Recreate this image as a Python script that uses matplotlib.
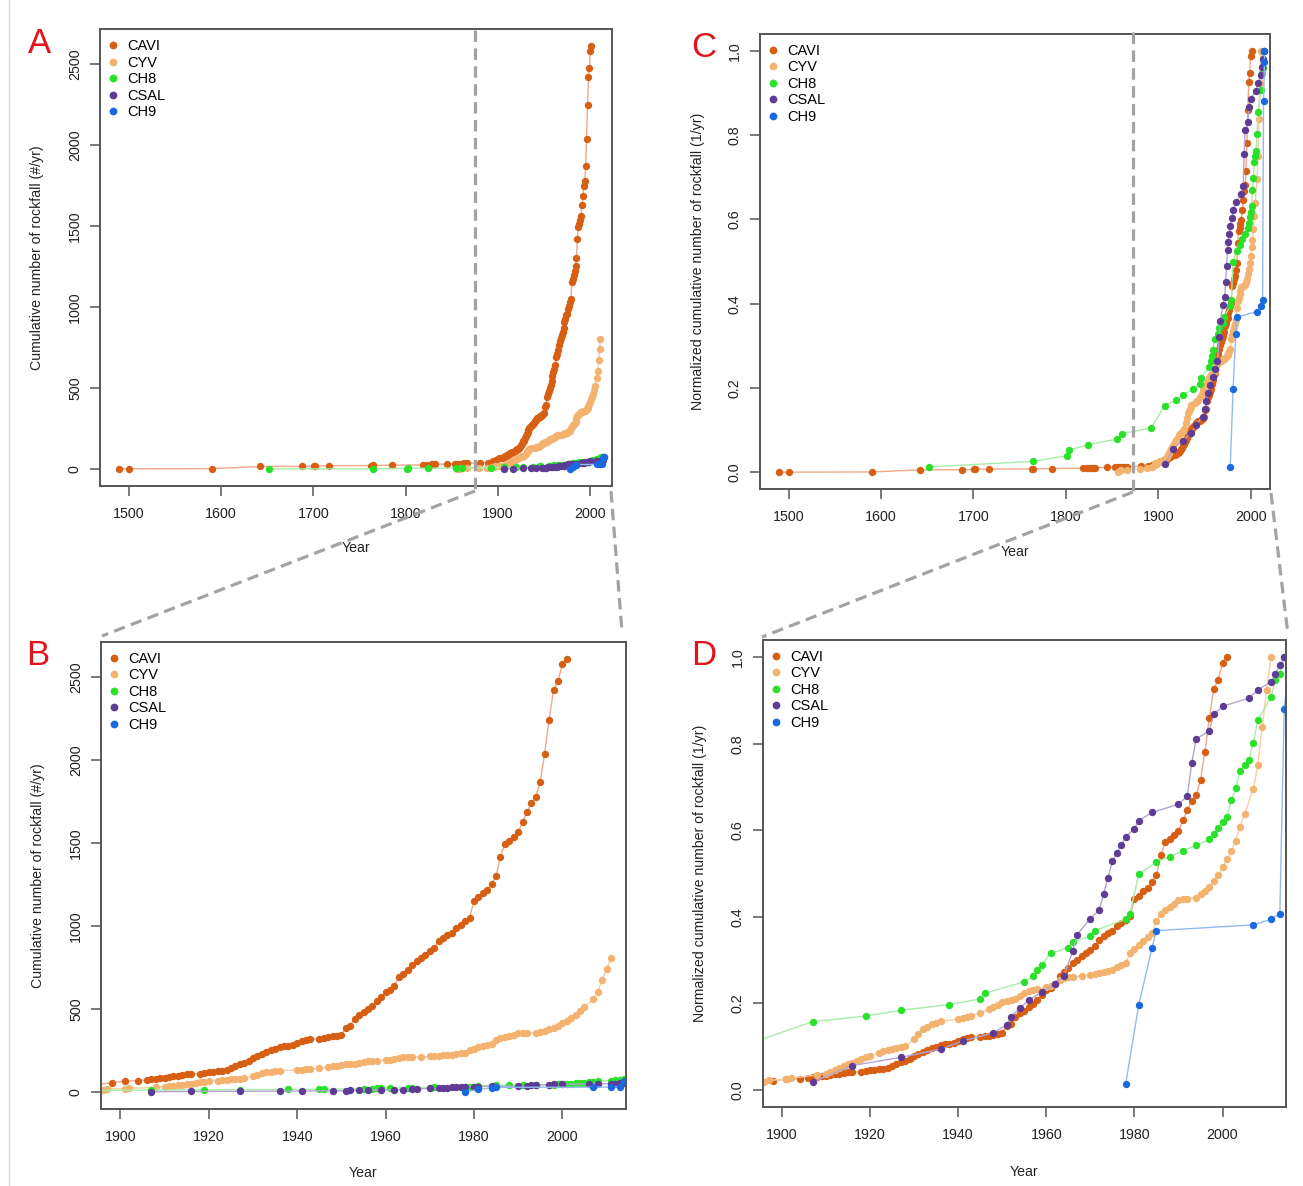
import numpy as np
import matplotlib
matplotlib.use("Agg")
import matplotlib.pyplot as plt
from matplotlib.lines import Line2D
from matplotlib.ticker import FormatStrFormatter

plt.rcParams['font.family'] = ['Liberation Sans', 'DejaVu Sans']

# ---------------- data (cumulative number of rockfalls per inventory) -------------
series_names = ["CAVI", "CYV", "CH8", "CSAL", "CH9"]

cavi_year = [1490, 1500, 1590, 1642, 1688, 1701, 1702, 1717, 1763, 1765, 1785, 1819, 1823,
             1826, 1829, 1832, 1845, 1853, 1857, 1860, 1863, 1866, 1881, 1889, 1893, 1895,
             1898, 1901, 1904, 1906, 1907, 1908, 1909, 1910, 1911, 1912, 1913, 1914, 1915,
             1916, 1918, 1919, 1920, 1921, 1922, 1923, 1924, 1925, 1926, 1927, 1928, 1929,
             1930, 1931, 1932, 1933, 1934, 1935, 1936, 1937, 1938, 1939, 1940, 1941, 1942,
             1943, 1945, 1946, 1947, 1948, 1949, 1950, 1951, 1952, 1953, 1954, 1955, 1956,
             1957, 1958, 1959, 1960, 1961, 1962, 1963, 1964, 1965, 1966, 1967, 1968, 1969,
             1970, 1971, 1972, 1973, 1974, 1975, 1976, 1977, 1978, 1979, 1980, 1981, 1982,
             1983, 1984, 1985, 1986, 1987, 1988, 1989, 1990, 1991, 1992, 1993, 1994, 1995,
             1996, 1997, 1998, 1999, 2000, 2001]
cavi_cum = [1, 2, 3, 16, 17, 19, 20, 21, 22, 23, 24, 26, 27,
            28, 29, 30, 31, 32, 33, 34, 35, 36, 38, 40, 44, 48,
            54, 66, 68, 74, 76, 78, 82, 86, 90, 94, 98, 102, 106,
            108, 110, 115, 118, 121, 124, 128, 134, 147, 154, 171, 175, 189,
            203, 215, 231, 241, 255, 259, 269, 275, 279, 285, 295, 305, 315,
            318, 320, 326, 329, 335, 340, 346, 386, 396, 442, 466, 480, 500,
            520, 546, 573, 601, 617, 641, 691, 713, 737, 768, 788, 808, 828,
            848, 868, 908, 929, 948, 959, 989, 1009, 1029, 1049, 1153, 1173, 1200,
            1220, 1256, 1300, 1419, 1497, 1514, 1538, 1565, 1628, 1688, 1745, 1779, 1871,
            2040, 2245, 2422, 2476, 2581, 2613]

cyv_year = [1856, 1858, 1860, 1866, 1880, 1888, 1893, 1896, 1897, 1901, 1902, 1908, 1910,
            1911, 1912, 1913, 1914, 1915, 1916, 1917, 1918, 1919, 1920, 1922, 1923, 1924,
            1925, 1926, 1927, 1928, 1930, 1931, 1932, 1933, 1934, 1935, 1936, 1940, 1941,
            1942, 1943, 1945, 1947, 1948, 1949, 1950, 1951, 1952, 1953, 1954, 1955, 1956,
            1957, 1958, 1960, 1961, 1962, 1963, 1964, 1965, 1966, 1968, 1970, 1971, 1972,
            1973, 1974, 1975, 1976, 1977, 1978, 1979, 1980, 1981, 1982, 1983, 1984, 1985,
            1986, 1987, 1988, 1989, 1990, 1991, 1992, 1994, 1995, 1996, 1997, 1998, 1999,
            2000, 2001, 2002, 2003, 2004, 2005, 2007, 2008, 2009, 2010, 2011]
cyv_cum = [1, 2, 4, 5, 7, 9, 11, 14, 18, 20, 22, 28, 30,
           34, 38, 40, 44, 48, 50, 54, 58, 62, 64, 68, 72, 74,
           76, 78, 80, 82, 94, 104, 114, 118, 122, 124, 128, 132, 134,
           136, 138, 144, 150, 154, 158, 164, 166, 168, 170, 174, 180, 184,
           186, 188, 192, 193, 198, 204, 208, 210, 211, 212, 214, 216, 218,
           220, 222, 224, 228, 232, 236, 254, 262, 270, 278, 284, 292, 314,
           328, 334, 340, 346, 354, 355, 356, 358, 364, 370, 378, 388, 400,
           414, 430, 444, 464, 490, 514, 560, 604, 675, 744, 805]

ch8_year = [1652, 1765, 1801, 1803, 1824, 1855, 1861, 1892, 1907, 1919, 1927, 1938, 1945,
            1946, 1955, 1957, 1958, 1959, 1961, 1965, 1966, 1970, 1971, 1978, 1979, 1981,
            1985, 1988, 1991, 1994, 1997, 1998, 1999, 2000, 2001, 2002, 2003, 2004, 2005,
            2006, 2007, 2008, 2011, 2012, 2013, 2014]
ch8_cum = [1, 2, 3, 4, 5, 6, 7, 8, 12, 13, 14, 15, 16,
           17, 19, 20, 21, 22, 24, 25, 26, 27, 28, 30, 31, 38,
           40, 41, 42, 43, 44, 45, 46, 47, 48, 51, 53, 56, 57,
           58, 61, 65, 69, 72, 73, 76]

csal_year = [1907, 1916, 1927, 1936, 1941, 1948, 1951, 1952, 1954, 1956, 1959, 1962, 1964,
             1966, 1967, 1970, 1972, 1973, 1974, 1975, 1976, 1977, 1978, 1980, 1981, 1984,
             1990, 1992, 1993, 1994, 1997, 1998, 2000, 2006, 2008, 2011, 2012, 2013, 2014]
csal_cum = [1, 3, 4, 5, 6, 7, 8, 9, 10, 11, 12, 13, 14,
            17, 19, 21, 22, 24, 26, 28, 29, 30, 31, 32, 33, 34,
            35, 36, 40, 43, 44, 46, 47, 48, 49, 50, 51, 52, 53]

ch9_year = [1978, 1981, 1984, 1985, 2007, 2011, 2013, 2014, 2015, 2015]
ch9_cum = [1, 15, 25, 28, 29, 30, 31, 67, 74, 76]

point_colors = ["#D65F14", "#F3B26E", "#28E128", "#5E3C96", "#1969E1"]
line_colors = ["#F2A886", "#F7CFA0", "#A6EDA6", "#B4A4D4", "#94BBEE"]

years_list = [cavi_year, cyv_year, ch8_year, csal_year, ch9_year]
cum_list = [cavi_cum, cyv_cum, ch8_cum, csal_cum, ch9_cum]

# ---------------- figure layout ----------------
W, H = 1303, 1186
fig = plt.figure(figsize=(W / 100, H / 100), dpi=100)


def px_axes(l, t, r, b):
    return fig.add_axes([l / W, 1 - b / H, (r - l) / W, (b - t) / H])


axA = px_axes(100, 29.3, 612, 486)
axB = px_axes(101, 641.7, 626, 1109.3)
axC = px_axes(760, 34, 1270, 489.3)
axD = px_axes(762.5, 640, 1286, 1107.3)

TICK_FS = 10.3
LAB_FS = 10.2


def draw(ax, normalized):
    for k, (yrs, cum) in enumerate(zip(years_list, cum_list)):
        y = np.asarray(cum, dtype=float)
        if normalized:
            y = y / y.max()
        ax.plot(yrs, y, '-', color=line_colors[k], lw=1.0, zorder=2 + k * 0.1)
        ax.plot(yrs, y, 'o', color=point_colors[k], ms=5.3, mec='none',
                zorder=2.05 + k * 0.1)


def style(ax, xlim, ylim, xticks, yticks, yfmt, ylabel, ylab_x, xlab_y):
    ax.set_xlim(xlim)
    ax.set_ylim(ylim)
    ax.set_xticks(xticks)
    ax.set_yticks(yticks)
    ax.yaxis.set_major_formatter(FormatStrFormatter(yfmt))
    for s in ax.spines.values():
        s.set_color('#555555')
        s.set_linewidth(1.4)
    ax.tick_params(direction='out', length=7, width=1.1, color='#555555',
                   labelsize=TICK_FS, labelcolor='#222222')
    ax.tick_params(axis='x', pad=8)
    ax.tick_params(axis='y', pad=6, labelrotation=90)
    plt.setp(ax.get_yticklabels(), va='center')
    ax.set_xlabel('Year', fontsize=LAB_FS, color='#222222')
    ax.xaxis.label.set_va('center')
    ax.xaxis.set_label_coords(0.5, xlab_y)
    ax.set_ylabel(ylabel, fontsize=LAB_FS, color='#222222')
    ax.yaxis.label.set_va('center')
    ax.yaxis.set_label_coords(ylab_x, 0.5)

    # legend (markers only, no frame)
    bbox = ax.get_position()
    wpx, hpx = bbox.width * W, bbox.height * H
    handles = [Line2D([], [], marker='o', ls='none', color=c, ms=5.6, mec='none')
               for c in point_colors]
    ax.legend(handles, series_names, loc='upper left', frameon=False,
              bbox_to_anchor=(6.0 / wpx, 1 - 10.0 / hpx), borderpad=0, borderaxespad=0,
              handlelength=1.0, handletextpad=0.46, labelspacing=0.17,
              fontsize=10.5)


draw(axA, False)
draw(axB, False)
draw(axC, True)
draw(axD, True)

count_label = 'Cumulative number of rockfall (#/yr)'
norm_label = 'Normalized cumulative number of rockfall (1/yr)'

style(axA, (1469, 2023.5), (-104.4, 2714.4), np.arange(1500, 2001, 100),
      np.arange(0, 2501, 500), '%d', count_label, -0.123, -0.1357)
style(axB, (1895.6, 2014.4), (-104.4, 2714.4), np.arange(1900, 2001, 20),
      np.arange(0, 2501, 500), '%d', count_label, -0.12, -0.137)
style(axC, (1469, 2021), (-0.04, 1.04), np.arange(1500, 2001, 100),
      np.arange(0, 1.01, 0.2), '%.1f', norm_label, -0.1216, -0.137)
style(axD, (1895.6, 2014.4), (-0.04, 1.04), np.arange(1900, 2001, 20),
      np.arange(0, 1.01, 0.2), '%.1f', norm_label, -0.119, -0.138)

# ---------------- panel letters ----------------
for letter, (x, y) in zip("ABCD", [(39.5, 53), (38, 665), (703.5, 57), (704, 665)]):
    fig.text(x / W, 1 - y / H, letter, color='#E3131B', fontsize=25,
             ha='center', va='baseline')

# ---------------- zoom connector dashed lines ----------------
connectors = [((475, 30), (475, 491)), ((475, 491), (102, 636)), ((611, 491), (622, 632)),
              ((1133, 32), (1133, 492)), ((1133, 492), (762, 637)), ((1271, 493), (1288, 635))]
for (x0, y0), (x1, y1) in connectors:
    fig.add_artist(Line2D([x0 / W, x1 / W], [1 - y0 / H, 1 - y1 / H],
                          transform=fig.transFigure, color='#A3A3A3', lw=2.3,
                          dashes=(3.6, 2.0), zorder=5))

# light frame line on the left edge
fig.add_artist(Line2D([8.5 / W, 8.5 / W], [0, 1], transform=fig.transFigure,
                      color='#D8D8D8', lw=1.0))

fig.savefig('out.png', dpi=100, facecolor='white')
